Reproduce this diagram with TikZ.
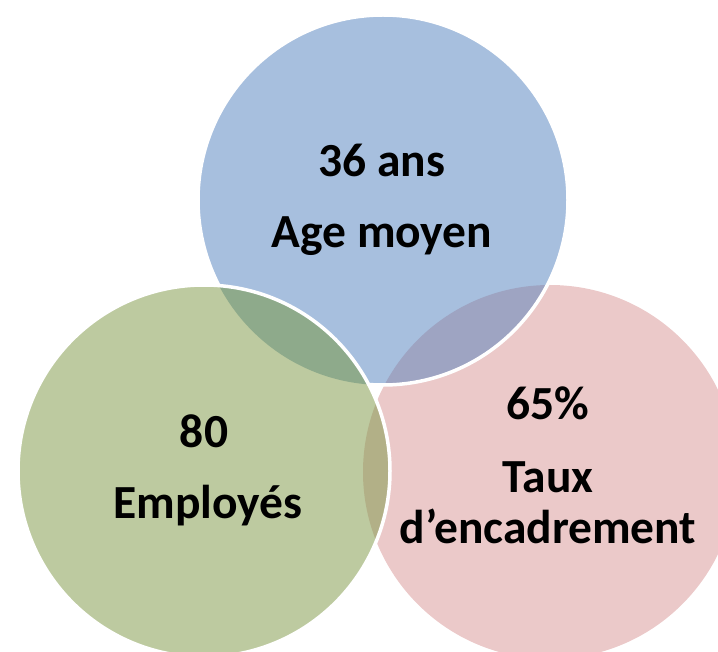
\documentclass[tikz,border=0pt]{standalone}
\usepackage{fontspec}
\setmainfont{Carlito}
\definecolor{cblue}{RGB}{167,191,222}
\definecolor{cgreen}{RGB}{189,202,160}
\definecolor{cpink}{RGB}{235,201,201}
\definecolor{cbp}{RGB}{158,164,194}
\definecolor{cbg}{RGB}{142,170,139}
\definecolor{cgp}{RGB}{178,176,135}
\definecolor{cbgp}{RGB}{140,150,130}
\begin{document}
\begin{tikzpicture}[x=1pt,y=-1pt,
  rim/.style={draw=white,line width=3.5pt},
  lbl/.style={font=\bfseries\fontsize{47.5}{56}\selectfont,anchor=base,inner sep=0pt}]
\useasboundingbox (0,0) rectangle (718,652);
\clip (0,0) rectangle (718,652);
\def\bluec{(383,200) circle[radius=185pt]}
\def\greenc{(204,471) circle[radius=186pt]}
\def\pinkc{(550,472) circle[radius=187pt]}
% pink
\fill[cpink] \pinkc;
% blue
\fill[cblue] \bluec;
\begin{scope}
  \clip \bluec;
  \fill[cbp] \pinkc;
\end{scope}
\draw[rim] \bluec;
% green
\fill[cgreen] \greenc;
\begin{scope}
  \clip \greenc;
  \fill[cbg] \bluec;
  \fill[cgp] \pinkc;
  \clip \bluec;
  \fill[cbgp] \pinkc;
\end{scope}
\draw[rim] \greenc;
% labels
\node[lbl] (b1) at (382,177) {36 ans};
\node[lbl] (b2) at (382,248) {Age moyen};
\node[lbl] (g1) at (204,447) {80};
\node[lbl] (g2) at (208,518) {Employés};
\node[lbl] (p1) at (548,420) {65\%};
\node[lbl] (p2) at (548,492) {Taux};
\node[lbl] (p3) at (548,543) {d’encadrement};
\end{tikzpicture}
\end{document}
